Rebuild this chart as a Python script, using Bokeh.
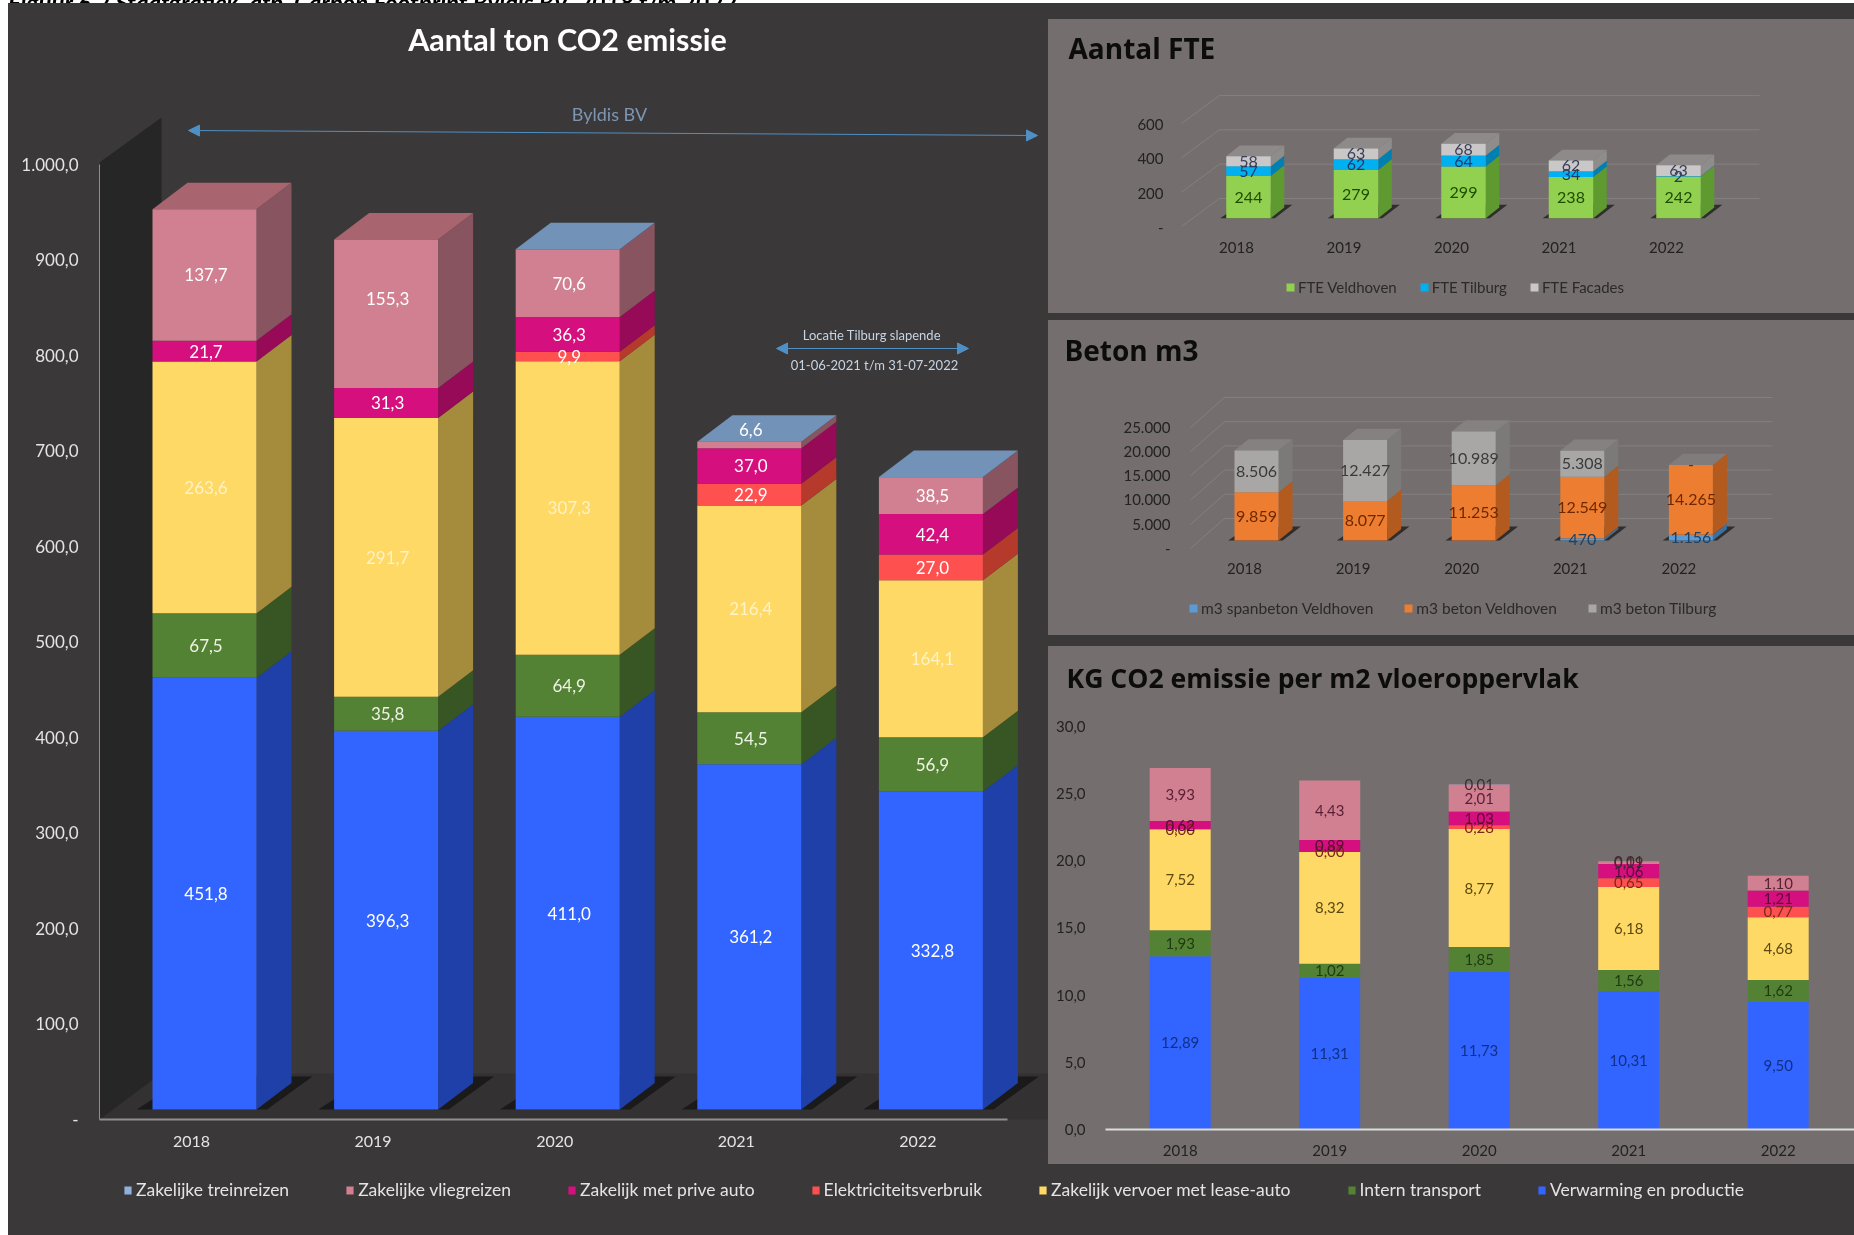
from bokeh.plotting import figure
from bokeh.layouts import column, row
from bokeh.models import (Range1d, LinearAxis, FixedTicker, Legend, LegendItem, Label, Arrow,
                          NormalHead, Div)
from bokeh.core.properties import value
from bokeh.embed import file_html
from bokeh.resources import INLINE

YEARS = ["2018", "2019", "2020", "2021", "2022"]

# --- Aantal ton CO2 emissie
CO2_NAMES = ["Verwarming en productie", "Intern transport", "Zakelijk vervoer met lease-auto",
             "Elektriciteitsverbruik", "Zakelijk met prive auto", "Zakelijke vliegreizen", "Zakelijke treinreizen"]
CO2_VERWARMING = [451.8, 396.3, 411.0, 361.2, 332.8]
CO2_INTERN = [67.5, 35.8, 64.9, 54.5, 56.9]
CO2_LEASE = [263.6, 291.7, 307.3, 216.4, 164.1]
CO2_ELEKTRA = [0.0, 0.0, 9.9, 22.9, 27.0]
CO2_PRIVE = [21.7, 31.3, 36.3, 37.0, 42.4]
CO2_VLIEG = [137.7, 155.3, 70.6, 6.6, 38.5]
CO2_TREIN = [0.0, 0.0, 0.3, 0.3, 0.3]
CO2_TICKS = [0, 100, 200, 300, 400, 500, 600, 700, 800, 900, 1000]

# --- Aantal FTE
FTE_NAMES = ["FTE Veldhoven", "FTE Tilburg", "FTE Facades"]
FTE_VELDHOVEN = [244, 279, 299, 238, 242]
FTE_TILBURG = [57, 62, 64, 34, 2]
FTE_FACADES = [58, 63, 68, 62, 63]
FTE_TICKS = [0, 200, 400, 600]

# --- Beton m3
BETON_NAMES = ["m3 spanbeton Veldhoven", "m3 beton Veldhoven", "m3 beton Tilburg"]
BETON_SPAN = [0, 0, 0, 470, 1156]
BETON_VELD = [9859, 8077, 11253, 12549, 14265]
BETON_TILB = [8506, 12427, 10989, 5308, 0]
BETON_TICKS = [0, 5000, 10000, 15000, 20000, 25000]

# --- KG CO2 emissie per m2 vloeroppervlak
KG_VERWARMING = [12.89, 11.31, 11.73, 10.31, 9.50]
KG_INTERN = [1.93, 1.02, 1.85, 1.56, 1.62]
KG_LEASE = [7.52, 8.32, 8.77, 6.18, 4.68]
KG_ELEKTRA = [0.00, 0.00, 0.28, 0.65, 0.77]
KG_PRIVE = [0.62, 0.89, 1.03, 1.06, 1.21]
KG_VLIEG = [3.93, 4.43, 2.01, 0.19, 1.10]
KG_TREIN = [0.0, 0.0, 0.01, 0.01, 0.0]
KG_TICKS = [0, 5, 10, 15, 20, 25, 30]

DARK = "#3a3838"
PANEL = "#746f6e"
FONT = "Lato"
TFONT = "Open Sans"


def comma(v, d=1):
    return f"{v:.{d}f}".replace(".", ",")


def dots(v):
    return f"{v:,}".replace(",", ".")


def make_frame(fig_w, fig_h, left, right, top, bottom, c0, pitch, y0_px, scale, bg):
    """Figure whose frame runs over the given page pixels (relative to figure)."""
    xr = Range1d((left - c0) / pitch, (right - c0) / pitch)
    yr = Range1d((y0_px - bottom) / scale, (y0_px - top) / scale)
    p = figure(width=fig_w, height=fig_h, x_range=xr, y_range=yr, output_backend="svg", toolbar_location=None,
               x_axis_location=None, y_axis_location=None, frame_align=False,
               min_border_left=left, min_border_right=fig_w - right, min_border_top=top,
               min_border_bottom=fig_h - bottom, background_fill_alpha=0, border_fill_alpha=0,
               outline_line_color=None, styles={"background-color": bg})
    p.xgrid.visible = False
    p.ygrid.visible = False
    return p


def plain_strip(width, height, bg):
    s = figure(width=width, height=height, x_range=Range1d(0, width), y_range=Range1d(0, height), output_backend="svg",
               toolbar_location=None, x_axis_location=None, y_axis_location=None, min_border=0, frame_align=False,
               background_fill_alpha=0, border_fill_alpha=0, outline_line_color=None, styles={"background-color": bg})
    s.xgrid.visible = False
    s.ygrid.visible = False
    return s


def legend_strip(width, height, names, colors, x, y, spacing, size, text_color, bg, glyph_w=10, standoff=3):
    """A figure that holds nothing but a legend; its keys sit outside the visible range."""
    s = plain_strip(width, height, bg)
    items = []
    for n, c in zip(names, colors):
        r = s.quad(left=[-20], right=[-10], bottom=[-20], top=[-10], color=c, line_color=None)
        items.append(LegendItem(label=value(n), renderers=[r]))
    s.add_layout(Legend(items=items, orientation="horizontal", location=(x, y), background_fill_alpha=0,
                        border_line_color=None, glyph_width=glyph_w, glyph_height=10, label_text_font=FONT,
                        label_text_font_size=size, label_text_color=text_color, spacing=spacing, padding=0, margin=0,
                        label_standoff=standoff))
    return s


def title_strip(width, height, text, x, y, size="28px", bg=PANEL):
    s = plain_strip(width, height, bg)
    s.add_layout(Label(x=x, y=y, text=text, text_color="#0c0c0c", text_font=TFONT, text_font_size=size,
                       text_font_style="bold", text_align="left", text_baseline="middle"))
    return s


def stacked_3d(p, series, fronts, sides, tops, w, dx, dy, shadow=None):
    n = len(series[0])
    xs = list(range(n))
    if shadow:
        p.patches([[i - w / 2 - .45 * dx, i + w / 2 + .3 * dx, i + w / 2 + 1.6 * dx, i - w / 2 + dx] for i in xs],
                  [[0, 0, 1.25 * dy, 1.25 * dy] for i in xs], color=shadow, line_color=None)
    base = [0.0] * n
    quads, bounds = [], []
    for s in series:
        upper = [b + v for b, v in zip(base, s)]
        bounds.append((list(base), upper))
        base = upper
    # side faces
    for (lo, hi), col in zip(bounds, sides):
        p.patches([[i + w / 2, i + w / 2 + dx, i + w / 2 + dx, i + w / 2] for i in xs],
                  [[lo[i], lo[i] + dy, hi[i] + dy, hi[i]] for i in xs], color=col, line_color=None)
    # top faces, coloured by the highest series present
    top_cols = []
    for i in xs:
        k = max(j for j, s in enumerate(series) if s[i] > 0)
        top_cols.append(tops[k])
    p.patches([[i - w / 2, i + w / 2, i + w / 2 + dx, i - w / 2 + dx] for i in xs],
              [[base[i], base[i], base[i] + dy, base[i] + dy] for i in xs], color=top_cols, line_color=None)
    # front faces
    for (lo, hi), col in zip(bounds, fronts):
        quads.append(p.quad(left=[i - w / 2 for i in xs], right=[i + w / 2 for i in xs], bottom=lo, top=hi,
                            color=col, line_color=None))
    return quads, bounds


def labels(p, bounds, texts, colors, size, shift=0.0, extra=None):
    for (lo, hi), ts, col in zip(bounds, texts, colors):
        xs, ys, tt = [], [], []
        for i, t in enumerate(ts):
            if t is None:
                continue
            xs.append(i + shift)
            ys.append((lo[i] + hi[i]) / 2 + (extra or {}).get(t, 0))
            tt.append(t)
        p.text(xs, ys, text=tt, text_color=col, text_font=value(FONT), text_font_size=size,
               text_align="center", text_baseline="middle")


def y_axis(p, rng_name, ticks, overrides, color, size, standoff, line=None, bounds=None):
    ax = LinearAxis(y_range_name=rng_name, ticker=FixedTicker(ticks=ticks), major_label_overrides=overrides,
                    major_tick_line_color=None, minor_tick_line_color=None, axis_line_color=line,
                    major_label_text_color=color, major_label_text_font=FONT, major_label_text_font_size=size,
                    major_label_standoff=standoff)
    if bounds:
        ax.bounds = bounds
    p.add_layout(ax, "left")


def x_axis(p, rng_name, color, size, standoff, line=None, bounds=None):
    ax = LinearAxis(x_range_name=rng_name, ticker=FixedTicker(ticks=list(range(len(YEARS)))),
                    major_label_overrides={i: y for i, y in enumerate(YEARS)},
                    major_tick_line_color=None, minor_tick_line_color=None, axis_line_color=line,
                    major_label_text_color=color, major_label_text_font=FONT, major_label_text_font_size=size,
                    major_label_standoff=standoff)
    if line:
        ax.axis_line_width = 2
    if bounds:
        ax.bounds = bounds
    p.add_layout(ax, "below")


# ====================== main chart (figure: page x 8..1048, y 3..1164)
OX, OY = 8, 3
M_W, M_H = 1040, 1161
M_PITCH, M_SCALE = 181.6, 0.9555
M_C0 = 204 - OX
M_Y0 = 1109 - OY
M_FL, M_FR, M_FT, M_FB = 99 - OX, 1040, 0, 1119 - OY
main = make_frame(M_W, M_H, M_FL, M_FR, M_FT, M_FB, M_C0, M_PITCH, M_Y0, M_SCALE, DARK)


def mx(px):
    return (px - OX - M_C0) / M_PITCH


def my(py):
    return (M_Y0 - (py - OY)) / M_SCALE


main.extra_y_ranges = {"ax": Range1d(0, (M_FB - M_FT) / M_SCALE)}
main.extra_x_ranges = {"lab": Range1d((99 - 191) / M_PITCH, (1048 - 191) / M_PITCH)}
y_axis(main, "ax", CO2_TICKS, {t: ("-" if t == 0 else dots(t) + ",0") for t in CO2_TICKS}, "#e4e4e4", "17px", 15,
       line="#8f8f8f", bounds=(0, 1000))
x_axis(main, "lab", "#e4e4e4", "16px", 10, line="#8f8f8f", bounds=((99 - 191) / M_PITCH, (1007 - 191) / M_PITCH))

# walls of the 3D box
main.patch([mx(99), mx(161), mx(1048), mx(1048)], [my(1119), my(1073), my(1073), my(1119)], color="#333131",
           line_color=None)
main.patch([mx(99), mx(161), mx(161), mx(99)], [my(1119), my(1073), my(117), my(162)], color="#262626",
           line_color=None)

co2_series = [CO2_VERWARMING, CO2_INTERN, CO2_LEASE, CO2_ELEKTRA, CO2_PRIVE, CO2_VLIEG, CO2_TREIN]
co2_front = ["#3264ff", "#548235", "#ffd966", "#ff5050", "#d60f7e", "#d08090", "#8fb0dc"]
co2_side = ["#1e40a8", "#375623", "#a58c3c", "#b53a2c", "#960a58", "#875460", "#6a86a8"]
co2_top = ["#2850c8", "#446a2c", "#c8aa50", "#c8402e", "#a80d64", "#a8646f", "#7292b8"]
m_dx, m_dy = 35 / M_PITCH, 26.5 / M_SCALE
_, co2_bounds = stacked_3d(main, co2_series, co2_front, co2_side, co2_top, 104 / M_PITCH, m_dx, m_dy,
                           shadow="#1b1a1a")
co2_txt = [[comma(v) if v >= 1 else None for v in s] for s in co2_series[:-1]]
labels(main, co2_bounds[:-1], co2_txt,
       ["#ffffff", "#eef3e4", "#fff2c4", "#ffffff", "#ffffff", "#ffffff"], "17px", shift=1.5 / M_PITCH,
       extra={"6,6": 16 / M_SCALE, "155,3": 15 / M_SCALE})

ARROW = "#4f8fc4"
main.text([mx(609)], [my(113)], text=["Byldis BV"], text_color="#7d96b4", text_font=value(FONT), text_font_size="18px",
          text_align="center", text_baseline="middle")
main.add_layout(Arrow(start=NormalHead(size=11, fill_color=ARROW, line_color=ARROW),
                      end=NormalHead(size=11, fill_color=ARROW, line_color=ARROW),
                      x_start=mx(188), y_start=my(130), x_end=mx(1037), y_end=my(135), line_color=ARROW, line_width=1))
main.text([mx(873)], [my(334)], text=["Locatie Tilburg  slapende"], text_color="#c6d4e4", text_font=value(FONT),
          text_font_size="13px", text_align="center", text_baseline="middle")
main.add_layout(Arrow(start=NormalHead(size=11, fill_color=ARROW, line_color=ARROW),
                      end=NormalHead(size=11, fill_color=ARROW, line_color=ARROW),
                      x_start=mx(776), y_start=my(348), x_end=mx(968), y_end=my(348), line_color=ARROW, line_width=1))
main.text([mx(874)], [my(364)], text=["01-06-2021 t/m 31-07-2022"], text_color="#c6d4e4", text_font=value(FONT),
          text_font_size="13px", text_align="center", text_baseline="middle")
main.add_layout(Label(x=mx(567), y=my(38), text="Aantal ton CO2 emissie", text_color="#ffffff", text_font=FONT,
                      text_font_size="30.5px", text_font_style="bold", text_align="center", text_baseline="middle"))


def grid_3d(p, ticks, y_back, x_left, x_right, d_x, d_y, color="#858080"):
    for t in ticks:
        p.line([x_left - d_x, x_left, x_right], [y_back(t) - d_y, y_back(t), y_back(t)], line_color=color, line_width=1)


# ====================== FTE panel (page y 19..313: title to 75, chart to 265, legend below)
PX = 1048
F_W = 806
F_T = 75
F_PITCH, F_SCALE = 107.5, 0.1727
fte = make_frame(F_W, 265 - F_T, 1175 - PX, 1854 - PX, 80 - F_T, 227 - F_T, 1248 - PX, F_PITCH, 217.7 - F_T, F_SCALE, PANEL)
fte.extra_y_ranges = {"ax": Range1d(0, (227 - 80) / 0.1717)}
fte.extra_x_ranges = {"lab": Range1d((1175 - 1236) / F_PITCH, (1854 - 1236) / F_PITCH)}
grid_3d(fte, FTE_TICKS, lambda t: t * 0.1717 / F_SCALE + (217.7 - 198) / F_SCALE,
        (1219 - 1248) / F_PITCH, (1759 - 1248) / F_PITCH, 38 / F_PITCH, 28 / F_SCALE)
f_dx, f_dy = 13.5 / F_PITCH, 10.7 / F_SCALE
f_series = [FTE_VELDHOVEN, FTE_TILBURG, FTE_FACADES]
fte_front = ["#92d050", "#00b0f0", "#c9c7c7"]
_, f_bounds = stacked_3d(fte, f_series, fte_front, ["#5f9a30", "#0080b0", "#8f8d8c"],
                         ["#7bb040", "#0090c8", "#8d8a89"], 44.5 / F_PITCH, f_dx, f_dy, shadow="#2f2d2d")
labels(fte, f_bounds, [[str(v) for v in s] for s in f_series], ["#1e4d00", "#1f3b6b", "#3a3f5a"], "16px")
y_axis(fte, "ax", FTE_TICKS, {t: ("-" if t == 0 else str(t)) for t in FTE_TICKS}, "#222222", "15px", 6)
x_axis(fte, "lab", "#222222", "15px", 8)
fte_head = title_strip(F_W, F_T - 19, "Aantal FTE", 1068 - PX, F_T - 47)
fte_leg = legend_strip(F_W, 48, FTE_NAMES, fte_front, 1285 - PX, 17, 22, "15px", "#2a2a2a", PANEL)

# ====================== Beton panel (page y 320..635: title to 372, chart to 585, legend below)
B_T = 372
B_PITCH, B_SCALE = 108.6, 0.0049
beton = make_frame(F_W, 585 - B_T, 1180 - PX, 1854 - PX, 385 - B_T, 548 - B_T, 1256 - PX, B_PITCH, 540 - B_T, B_SCALE, PANEL)
beton.extra_y_ranges = {"ax": Range1d(0, (548 - 385) / 0.00486)}
beton.extra_x_ranges = {"lab": Range1d((1180 - 1244) / B_PITCH, (1854 - 1244) / B_PITCH)}
grid_3d(beton, BETON_TICKS, lambda t: t * 0.00484 / B_SCALE + (540 - 518) / B_SCALE,
        (1224 - 1256) / B_PITCH, (1772 - 1256) / B_PITCH, 34 / B_PITCH, 30 / B_SCALE)
b_dx, b_dy = 14 / B_PITCH, 11.3 / B_SCALE
b_series = [BETON_SPAN, BETON_VELD, BETON_TILB]
beton_front = ["#5b9bd5", "#ed7d31", "#a9a7a6"]
_, b_bounds = stacked_3d(beton, b_series, beton_front, ["#3c70a0", "#b35a1e", "#7c7a79"],
                         ["#4a86bc", "#807c7b", "#848180"], 44 / B_PITCH, b_dx, b_dy, shadow="#2f2d2d")
labels(beton, b_bounds, [[dots(v) if v else None for v in s] for s in b_series[:2]]
       + [[dots(v) if v else "-" for v in BETON_TILB]], ["#1f4060", "#6e2800", "#3a3a3a"], "16px")
y_axis(beton, "ax", BETON_TICKS, {t: ("-" if t == 0 else dots(t)) for t in BETON_TICKS}, "#222222", "15px", 4)
x_axis(beton, "lab", "#222222", "15px", 8)
beton_head = title_strip(F_W, B_T - 320, "Beton m3", 1064 - PX, B_T - 349)
beton_leg = legend_strip(F_W, 50, BETON_NAMES, beton_front, 1188 - PX, 18, 30, "15.5px", "#2a2a2a", PANEL)

# ====================== KG panel (page y 646..1164: title to 700, chart below)
K_T = 700
K_PITCH, K_SCALE = 149.5, 13.44
K_AX = 1129
kg = make_frame(F_W, 1164 - K_T, 1105 - PX, 1854 - PX, 705 - K_T, K_AX - K_T, 1179.7 - PX, K_PITCH, K_AX - K_T, K_SCALE, PANEL)
kg.extra_y_ranges = {"ax": Range1d(0, (K_AX - 705) / K_SCALE)}
kg.extra_x_ranges = {"lab": Range1d(kg.x_range.start, kg.x_range.end)}
k_series = [KG_VERWARMING, KG_INTERN, KG_LEASE, KG_ELEKTRA, KG_PRIVE, KG_VLIEG, KG_TREIN]
_, k_bounds = stacked_3d(kg, k_series, co2_front, co2_front, co2_front, 61 / K_PITCH, 0, 0)
k_txt = [[comma(v, 2) if (v > 0 or j in (3,)) else None for v in s] for j, s in enumerate(k_series)]
labels(kg, k_bounds, k_txt, ["#10308a", "#1e3a10", "#5a4a10", "#7a2a1a", "#5a0a3a", "#5a1f35", "#3a3030"], "15px")
y_axis(kg, "ax", KG_TICKS, {t: comma(t) for t in KG_TICKS}, "#222222", "15px", 14)
x_axis(kg, "lab", "#222222", "15px", 9, line="#dcdcdc")
kg_head = title_strip(F_W, K_T - 646, "KG CO2 emissie per m2 vloeroppervlak", 1066 - PX, K_T - 677.5, size="26.6px")

# ====================== common legend strip (page y 1164..1235)
S_W, S_H = 1846, 71
strip = legend_strip(S_W, S_H, CO2_NAMES[::-1], co2_front[::-1], 115, 35, 56, "17.5px", "#e4e4e4", DARK,
                     glyph_w=9, standoff=4)

# ====================== page
fte_head.margin = (16, 0, 0, 0)
fte_leg.margin = (0, 0, 7, 0)
beton_leg.margin = (0, 0, 11, 0)
right_col = column(fte_head, fte, fte_leg, beton_head, beton, beton_leg, kg_head, kg, spacing=0,
                   styles={"background-color": DARK})
top_row = row(main, right_col, spacing=0, styles={"background-color": DARK})
caption = Div(text='<div style="margin-top:-17px;font:italic bold 24px/22px Lato;color:#000;white-space:nowrap">'
                   'Figuur 6.2 Staafgrafiek, afb. Carbon Footprint Byldis BV. 2018 t/m 2022</div>',
              width=S_W, height=3, margin=0, styles={"overflow": "hidden"})
root = column(caption, top_row, strip, spacing=0, styles={"position": "fixed", "left": "8px", "top": "0px"})

open("out.html", "w").write(file_html(root, INLINE))
